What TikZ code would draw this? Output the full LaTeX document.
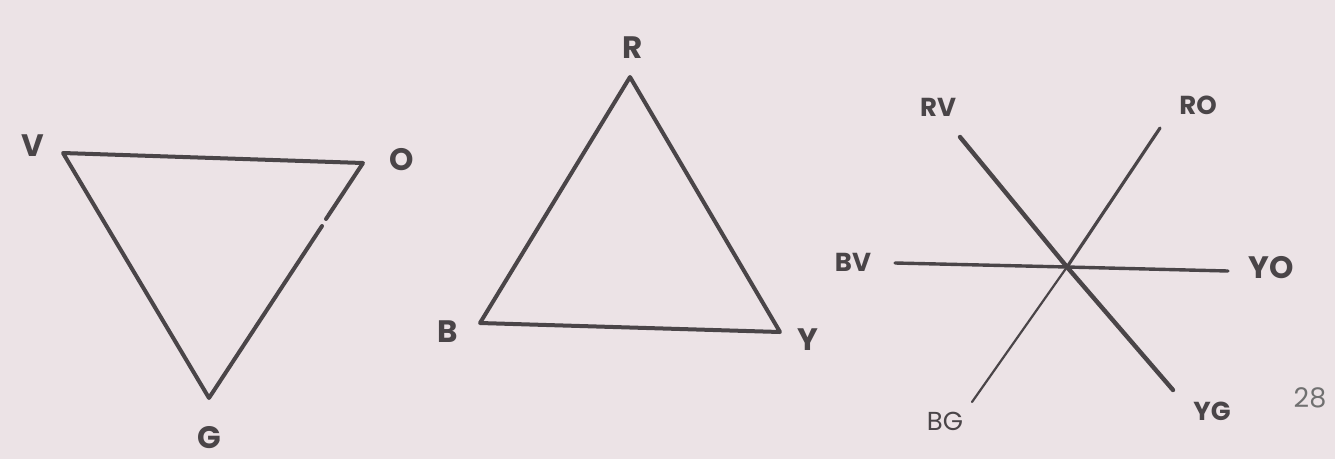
\documentclass[tikz,border=0pt]{standalone}
\usepackage{fontspec}
\setmainfont{Poppins}
\definecolor{paper}{HTML}{ECE3E6}
\definecolor{ink}{HTML}{4A4548}
\definecolor{pageno}{HTML}{707070}
\begin{document}
\begin{tikzpicture}[x=1pt,y=-1pt,
  edge/.style={draw=ink,line width=4pt,line join=round,line cap=round},
  lbl/.style={text=ink,font=\fontsize{31}{32}\selectfont\bfseries,inner sep=0pt},
  slbl/.style={text=ink,font=\fontsize{26}{27}\selectfont\bfseries,inner sep=0pt}]
\fill[paper] (0,0) rectangle (1335,459);
\useasboundingbox (0,0) rectangle (1335,459);
% left triangle
\coordinate (v) at (63,153);
\coordinate (o) at (363,163);
\coordinate (g) at (209,398);
\coordinate (gapa) at (326,219);
\coordinate (gapb) at (322,226);
\draw[edge] (gapa) -- (o) -- (v) -- (g) -- (gapb);
\node[lbl] (lv) at (33,146) {V};
\node[lbl] (lo) at (402,160) {O};
\node[lbl] (lg) at (209,438) {G};
% middle triangle
\coordinate (r) at (630,77);
\coordinate (b) at (480,323);
\coordinate (y) at (780,332);
\draw[edge] (r) -- (b) -- (y) -- cycle;
\node[lbl] (lr) at (633,48) {R};
\node[lbl] (lb) at (448,332) {B};
\node[lbl] (ly) at (808,340) {Y};
% star
\coordinate (c) at (1067,267);
\coordinate (rv) at (960,137);
\coordinate (ro) at (1160,128);
\coordinate (bv) at (895,263);
\coordinate (yo) at (1228,271);
\coordinate (bg) at (972,402);
\coordinate (yg) at (1173,390);
\draw[draw=ink,line width=4.4pt,line cap=round] (rv) -- (c) -- (yg);
\draw[draw=ink,line width=3.2pt,line cap=round] (ro) -- (c);
\draw[draw=ink,line width=2.2pt,line cap=round] (c) -- (bg);
\draw[draw=ink,line width=3.4pt,line cap=round] (bv) -- (c) -- (yo);
\node[slbl] (lrv) at (938,107) {RV};
\node[slbl] (lro) at (1198,105) {RO};
\node[slbl] (lbv) at (853,262) {BV};
\node[lbl] (lyo) at (1271,268) {YO};
\node[slbl,font=\fontsize{26}{27}\selectfont] (lbg) at (945,421) {BG};
\node[slbl] (lyg) at (1212,411) {YG};
\node[text=pageno,font=\fontsize{27}{28}\selectfont,inner sep=0pt] (pn) at (1310,398) {28};
\end{tikzpicture}
\end{document}
